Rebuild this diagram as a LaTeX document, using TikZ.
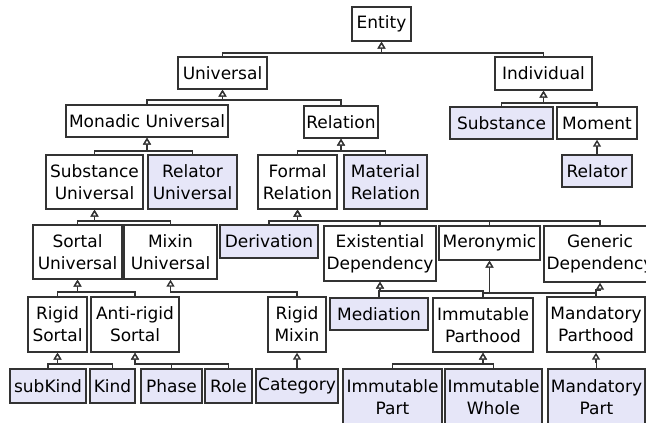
\documentclass[tikz,border=0pt]{standalone}
\usepackage{fontspec}
\setmainfont{DejaVu Sans}
\usetikzlibrary{arrows.meta}
\definecolor{kindfill}{RGB}{230,230,248}
\tikzstyle{box}=[rectangle,draw=black!80,line width=1.4pt,fill=white,inner sep=0pt,align=center,font=\fontsize{17}{22}\selectfont]
\tikzstyle{kindbox}=[box,fill=kindfill]
\tikzstyle{gen} = [draw,black!80,line width=1.4pt,-{Triangle[open,fill=white,length=7pt,width=8pt]}]

\begin{document}
\begin{tikzpicture}[x=1pt,y=-1pt]
    \useasboundingbox (0,0) rectangle (646,423);
    \clip (0,0) rectangle (646,423);
    % First the white classes
    \foreach \pos/\name/\w/\h/\label in {{(381.5,24)/Entity/59/34/Entity}, {(222.5,73)/Universal/89/32/Universal}, {(543.5,73.5)/Individual/97/33/Individual},
        {(147,121)/MonUniv/162/32/Monadic Universal}, {(341,122)/Relation/74/32/Relation}, {(597,123)/Moment/80/32/Moment},
        {(94.5,182)/SubstUniv/97/54/Substance\\Universal}, {(297.5,182)/FormalRel/79/54/Formal\\Relation},
        {(77.5,252)/SortalUniv/89/54/Sortal\\Universal}, {(170.5,252)/MixinUniv/93/54/Mixin\\Universal},
        {(380,253.5)/ExistDep/112/55/Existential\\Dependency}, {(489.5,243)/Meronymic/101/34/Meronymic}, {(600,254)/GenDep/112/56/Generic\\Dependency},
        {(57.5,324.5)/RigidSortal/59/55/Rigid\\Sortal}, {(135,324.5)/AntiRigid/88/55/Anti-rigid\\Sortal}, {(297,324.5)/RigidMixin/58/55/Rigid\\Mixin},
        {(483,325)/ImmParthood/100/54/Immutable\\Parthood}, {(596,324.5)/MandParthood/98/55/Mandatory\\Parthood}}
        \node[box,minimum width=\w pt,minimum height=\h pt] (\name) at \pos {\label};

    % Then the shaded ones
    \foreach \pos/\name/\w/\h/\label in {{(192.5,182)/RelUniv/89/54/Relator\\Universal}, {(385.5,182)/MaterialRel/83/54/Material\\Relation},
        {(501.5,123)/Substance/103/32/Substance}, {(597,171)/Relator/70/32/Relator}, {(269,241.5)/Derivation/98/33/Derivation},
        {(379,314)/Mediation/98/32/Mediation}, {(48,386)/subKind/76/34/subKind}, {(112.5,386)/Kind/45/34/Kind},
        {(171.5,386)/Phase/61/34/Phase}, {(228.5,386)/Role/47/34/Role}, {(297,386)/Category/82/34/Category},
        {(392.5,397)/ImmPart/99/56/Immutable\\Part}, {(493.5,397)/ImmWhole/97/56/Immutable\\Whole}, {(596.5,397)/MandPart/97/56/Mandatory\\Part}}
        \node[kindbox,minimum width=\w pt,minimum height=\h pt] (\name) at \pos {\label};

    % Generalizations, child to parent over a bar
    \foreach \child/\parent/\bar in {Universal/Entity/53, Individual/Entity/53, MonUniv/Universal/100, Relation/Universal/100,
        Substance/Individual/103, Moment/Individual/103, SubstUniv/MonUniv/151, RelUniv/MonUniv/151,
        FormalRel/Relation/151, MaterialRel/Relation/151, Relator/Moment/147,
        SortalUniv/SubstUniv/221, MixinUniv/SubstUniv/221,
        Derivation/FormalRel/221, ExistDep/FormalRel/221, Meronymic/FormalRel/221, GenDep/FormalRel/221,
        RigidSortal/SortalUniv/292, AntiRigid/SortalUniv/292, RigidMixin/MixinUniv/292,
        Mediation/ExistDep/291, ImmParthood/ExistDep/291, ImmParthood/Meronymic/293, MandParthood/Meronymic/293, MandParthood/GenDep/290,
        subKind/RigidSortal/364, Kind/RigidSortal/364, Phase/AntiRigid/364, Role/AntiRigid/364, Category/RigidMixin/362,
        ImmPart/ImmParthood/364, ImmWhole/ImmParthood/364, MandPart/MandParthood/362}
        \path[gen] (\child.north) -- (\child.north |- 0,\bar) -| (\parent.south);
\end{tikzpicture}
\end{document}
